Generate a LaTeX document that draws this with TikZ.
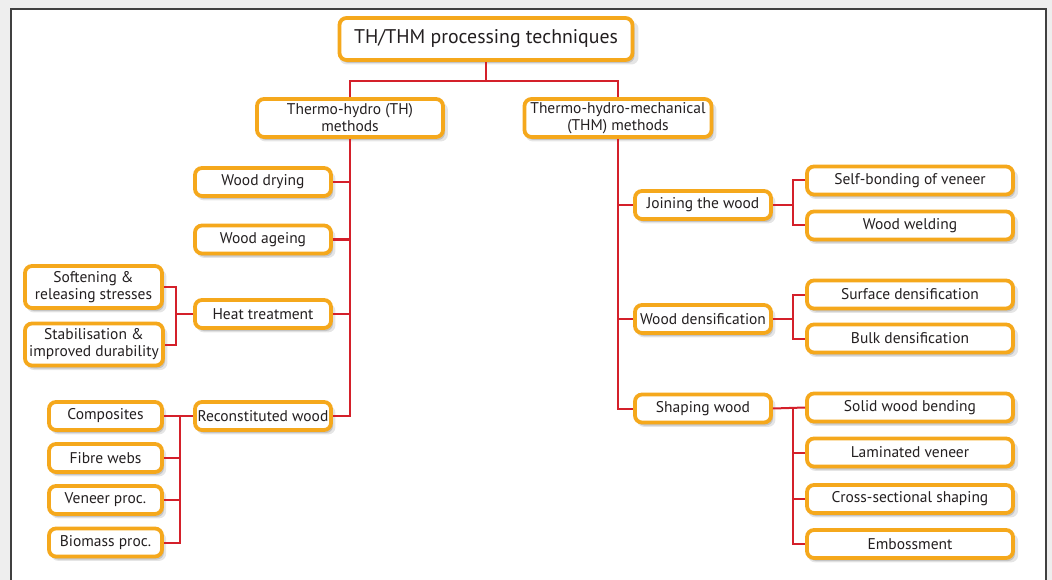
\documentclass[tikz,border=0pt]{standalone}
\usepackage{fontspec}
\setmainfont{PT Sans}
\usetikzlibrary{shadows,calc}
\definecolor{orng}{HTML}{F5A81C}
\definecolor{redln}{HTML}{D4202A}
\definecolor{bggrey}{HTML}{EEEEEE}
\definecolor{framec}{HTML}{404040}
\definecolor{txt}{HTML}{231F20}
\tikzset{
  box/.style={draw=orng, line width=3.8pt, rounded corners=7pt, fill=white, text=txt,
    inner sep=0pt, align=center, font=\fontsize{15.5}{17}\selectfont,
    general shadow={shadow xshift=3pt, shadow yshift=-4pt, opacity=0.10, fill=black, shadow scale=1.02},
    drop shadow={shadow xshift=2pt, shadow yshift=-3pt, opacity=0.14, fill=black}},
  midbox/.style={box, minimum width=136pt, minimum height=28pt},
  leafR/.style={box, minimum width=206pt, minimum height=28pt},
  leafL/.style={box, minimum width=113pt, minimum height=28pt},
  conn/.style={draw=redln, line width=2pt}
}
\begin{document}
\begin{tikzpicture}[x=1pt,y=-1pt]
\useasboundingbox (0,0) rectangle (1052,580);
\fill[bggrey] (0,0) rectangle (1052,580);
\fill[white] (11,9) rectangle (1046,600);
\draw[framec, line width=2pt] (11,600) -- (11,9) -- (1046,9) -- (1046,600);

% top level
\node[box, minimum width=293pt, minimum height=42pt, font=\fontsize{19.8}{22}\selectfont] (title) at (486,39) {TH/THM processing techniques};
\node[box, minimum width=186pt, minimum height=38pt] (th) at (350,118) {Thermo-hydro (TH)\\methods};
\node[box, minimum width=187pt, minimum height=38pt] (thm) at (618,118) {Thermo-hydro-mechanical\\(THM) methods};

% TH branch
\node[midbox] (dry) at (263,182) {Wood drying};
\node[midbox] (age) at (263,239.5) {Wood ageing};
\node[midbox] (heat) at (263,314) {Heat treatment};
\node[midbox] (recon) at (263,416) {Reconstituted wood};

\node[box, minimum width=137pt, minimum height=42pt] (soft) at (93.5,287) {Softening \&\\releasing stresses};
\node[box, minimum width=138pt, minimum height=42pt] (stab) at (94,344.5) {Stabilisation \&\\improved durability};

\node[leafL] (comp) at (105.5,416) {Composites};
\node[leafL] (fibre) at (105.5,458) {Fibre webs};
\node[leafL] (ven) at (105.5,500) {Veneer proc.};
\node[leafL] (bio) at (105.5,542.5) {Biomass proc.};

% THM branch
\node[midbox] (join) at (703,205) {Joining the wood};
\node[midbox] (dens) at (703,319) {Wood densification};
\node[midbox] (shape) at (703,408.5) {Shaping wood};

\node[leafR] (self) at (910,180.5) {Self-bonding of veneer};
\node[leafR] (weld) at (910,225.5) {Wood welding};
\node[leafR] (surf) at (910,294.5) {Surface densification};
\node[leafR] (bulk) at (910,338.5) {Bulk densification};
\node[leafR] (solid) at (910,407.5) {Solid wood bending};
\node[leafR] (lam) at (910,452.5) {Laminated veneer};
\node[leafR] (cross) at (910,499) {Cross-sectional shaping};
\node[leafR] (emb) at (910,544) {Embossment};

\coordinate (hbx) at (176,0);
\coordinate (rbx) at (180,0);
\coordinate (jbx) at (793,0);

% connectors
\draw[conn] (title.south) -- ++(0,19) coordinate (tj);
\draw[conn] (th.north) |- (tj) -| (thm.north);

\draw[conn] (th.south) |- (recon.east);
\draw[conn] (dry.east) -- (dry.east -| th.south);
\draw[conn] (age.east) -- (age.east -| th.south);
\draw[conn] (heat.east) -- (heat.east -| th.south);

\draw[conn] (soft.east) -| (hbx |- stab.east) -- (stab.east);
\draw[conn] (heat.west) -- (heat.west -| hbx);

\draw[conn] (comp.east) -- (recon.west);
\draw[conn] (rbx |- comp.east) |- (bio.east);
\draw[conn] (fibre.east) -- (fibre.east -| rbx);
\draw[conn] (ven.east) -- (ven.east -| rbx);

\draw[conn] (thm.south) |- (shape.west);
\draw[conn] (join.west) -- (join.west -| thm.south);
\draw[conn] (dens.west) -- (dens.west -| thm.south);

\draw[conn] (join.east) -- (join.east -| jbx);
\draw[conn] (self.west) -| (jbx |- weld.west) -- (weld.west);
\draw[conn] (dens.east) -- (dens.east -| jbx);
\draw[conn] (surf.west) -| (jbx |- bulk.west) -- (bulk.west);
\draw[conn] (shape.east) -- (solid.west);
\draw[conn] (jbx |- solid.west) |- (emb.west);
\draw[conn] (lam.west) -- (lam.west -| jbx);
\draw[conn] (cross.west) -- (cross.west -| jbx);
\end{tikzpicture}
\end{document}
